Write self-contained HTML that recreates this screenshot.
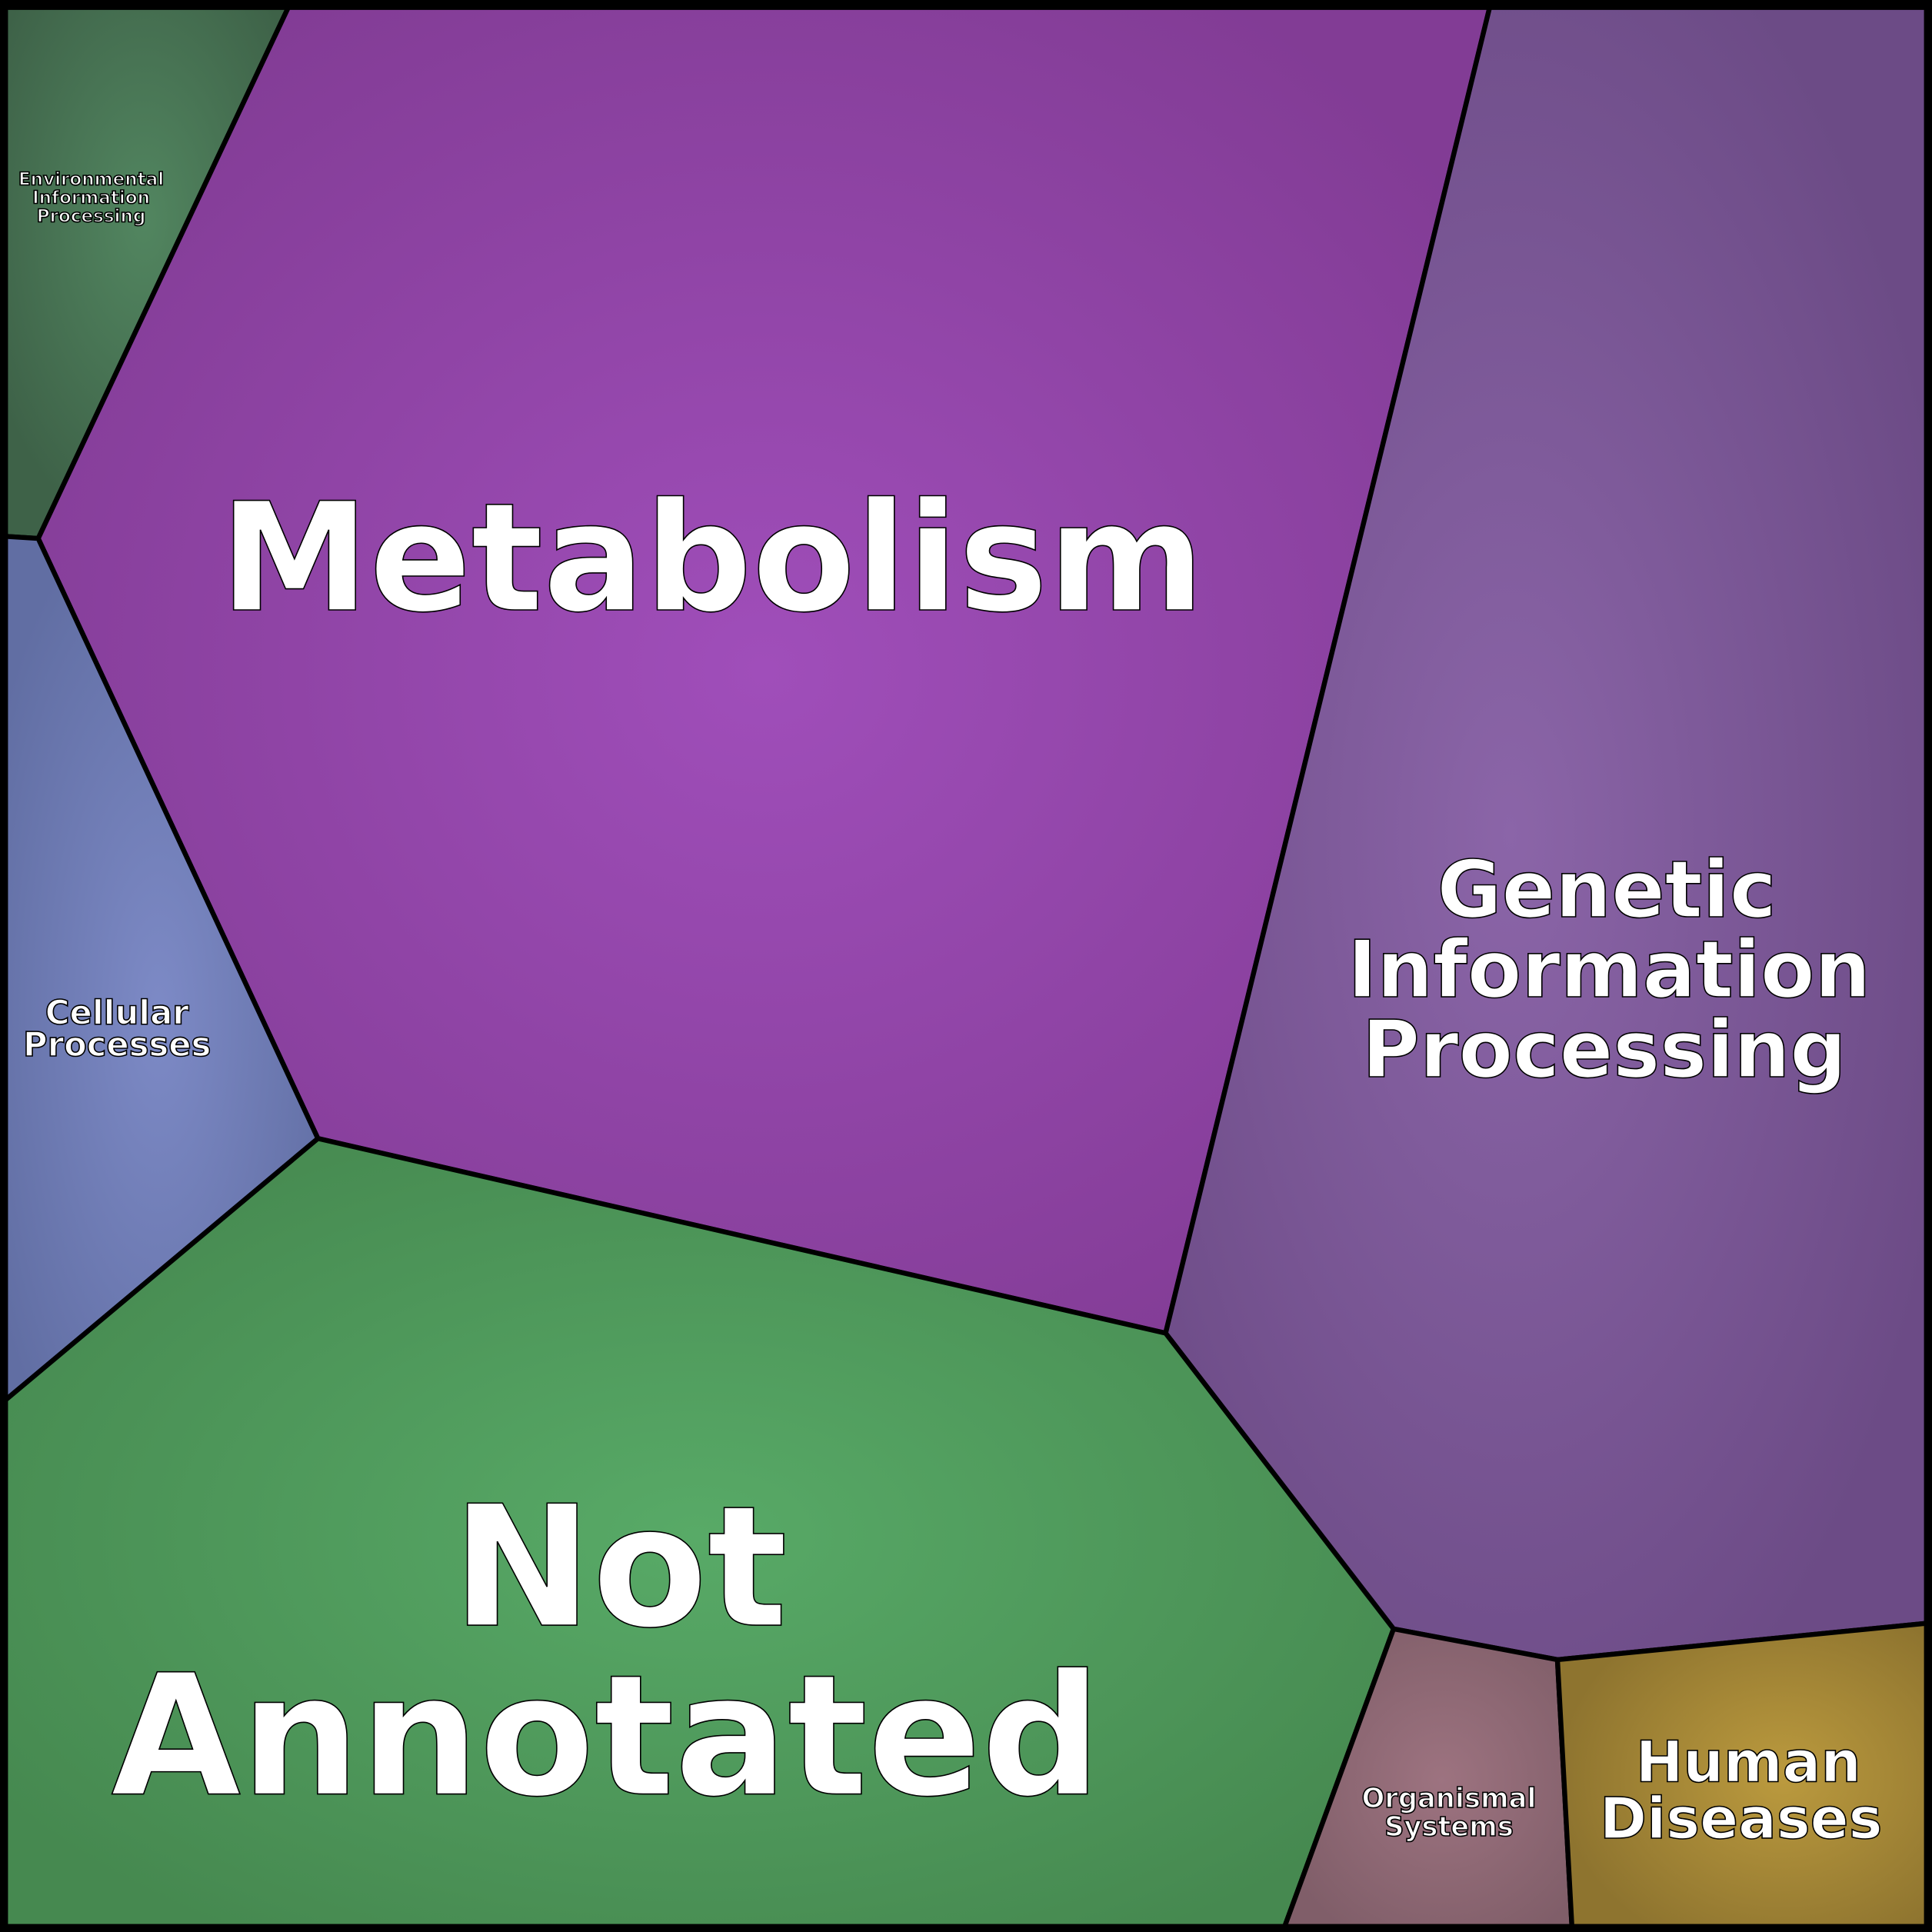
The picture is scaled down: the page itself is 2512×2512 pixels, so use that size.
<!DOCTYPE html>
<html><head><meta charset="utf-8"><style>
html,body{margin:0;padding:0;background:#000;}
svg{display:block;}
text{font-family:"DejaVu Sans","Liberation Sans",sans-serif;font-weight:bold;fill:#fff;stroke:#000;stroke-width:1;text-anchor:middle;}
</style></head><body>
<svg width="2512" height="2512" viewBox="0 0 1568 1568" xmlns="http://www.w3.org/2000/svg">
<defs>
<radialGradient id="gm" cx="0.5" cy="0.5" r="0.6"><stop offset="0" stop-color="#a04eba"/><stop offset="1" stop-color="#823c95"/></radialGradient>
<radialGradient id="gg" cx="0.45" cy="0.5" r="0.6"><stop offset="0" stop-color="#8b65a8"/><stop offset="1" stop-color="#6c4b86"/></radialGradient>
<radialGradient id="ge" cx="0.5" cy="0.4" r="0.6"><stop offset="0" stop-color="#528660"/><stop offset="1" stop-color="#3e6248"/></radialGradient>
<radialGradient id="gc" cx="0.5" cy="0.55" r="0.6"><stop offset="0" stop-color="#7d8ac6"/><stop offset="1" stop-color="#616ea3"/></radialGradient>
<radialGradient id="gn" cx="0.5" cy="0.5" r="0.6"><stop offset="0" stop-color="#58aa67"/><stop offset="1" stop-color="#468950"/></radialGradient>
<radialGradient id="go" cx="0.55" cy="0.5" r="0.6"><stop offset="0" stop-color="#9d7380"/><stop offset="1" stop-color="#805e69"/></radialGradient>
<radialGradient id="gh" cx="0.6" cy="0.5" r="0.6"><stop offset="0" stop-color="#bb9a3e"/><stop offset="1" stop-color="#8e742f"/></radialGradient>
</defs>
<g stroke="#000" stroke-width="4" stroke-linejoin="round">
<polygon points="0,6 234,6 31,437 0,435" fill="url(#ge)"/>
<polygon points="234,6 1209,6 946,1082 258,924 31,437" fill="url(#gm)"/>
<polygon points="1209,6 1568,6 1568,1317 1264,1347 1131,1322 946,1082" fill="url(#gg)"/>
<polygon points="0,435 31,437 258,924 0,1140" fill="url(#gc)"/>
<polygon points="0,1140 258,924 946,1082 1131,1322 1041,1568 0,1568" fill="url(#gn)"/>
<polygon points="1131,1322 1264,1347 1276,1568 1041,1568" fill="url(#go)"/>
<polygon points="1264,1347 1568,1317 1568,1568 1276,1568" fill="url(#gh)"/>
</g>
<rect x="3" y="3" width="1562" height="1562" fill="none" stroke="#000" stroke-width="7"/>
<text x="578" y="495" font-size="122">Metabolism</text>
<text x="503" y="1319" font-size="136">Not</text>
<text x="492" y="1456" font-size="136">Annotated</text>
<g font-size="64"><text x="1304" y="744">Genetic</text><text x="1306" y="809">Information</text><text x="1302" y="874">Processing</text></g>
<g font-size="27" stroke-width="0.7"><text x="95" y="831">Cellular</text><text x="95" y="857">Processes</text></g>
<g font-size="14.4" stroke-width="0.5"><text x="74" y="150">Environmental</text><text x="74" y="165">Information</text><text x="74" y="180">Processing</text></g>
<g font-size="22" stroke-width="0.6"><text x="1176" y="1467">Organismal</text><text x="1176" y="1490">Systems</text></g>
<g font-size="46" stroke-width="0.8"><text x="1419" y="1446">Human</text><text x="1413" y="1492">Diseases</text></g>
</svg>
</body></html>
